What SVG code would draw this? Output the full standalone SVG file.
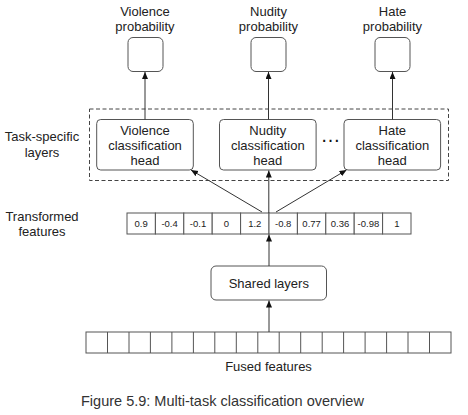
<svg xmlns="http://www.w3.org/2000/svg" width="468" height="415" viewBox="0 0 468 415">
<style>
text{font-family:"Liberation Sans",Arial,sans-serif;fill:#222;text-anchor:middle}
.lbl{font-size:13px}
.num{font-size:9.5px}
.cap{font-size:14.5px;text-anchor:start;fill:#333}
.box{fill:#fff;stroke:#555;stroke-width:1}
.cell{fill:#fff;stroke:#555;stroke-width:1}
.con{stroke:#333;stroke-width:1;fill:none}
</style>
<defs>
<marker id="ah" markerUnits="userSpaceOnUse" markerWidth="8" markerHeight="8" refX="7" refY="3" orient="auto">
<path d="M0,0 L7,3 L0,6 z" fill="#111"/>
</marker>
</defs>
<rect width="468" height="415" fill="#fff"/>

<g id="out-violence">
<text class="lbl" x="145" y="15.5">Violence</text>
<text class="lbl" x="145" y="30.5">probability</text>
<rect class="box" x="128" y="37.5" width="35" height="34" rx="5"/>
</g>
<g id="out-nudity">
<text class="lbl" x="268.5" y="15.5">Nudity</text>
<text class="lbl" x="268.5" y="30.5">probability</text>
<rect class="box" x="251" y="37.5" width="35" height="34" rx="5"/>
</g>
<g id="out-hate">
<text class="lbl" x="392.5" y="15.5">Hate</text>
<text class="lbl" x="392.5" y="30.5">probability</text>
<rect class="box" x="375" y="37.5" width="35" height="34" rx="5"/>
</g>

<g id="task-specific">
<rect x="89.5" y="109" width="359" height="71.5" fill="none" stroke="#444" stroke-width="1" stroke-dasharray="4,2.5"/>
<text class="lbl" x="42" y="141">Task-specific</text>
<text class="lbl" x="42" y="157">layers</text>
<text x="330.5" y="142" style="font-size:20px;fill:#111">…</text>
</g>

<g id="head-violence">
<rect class="box" x="96.7" y="119.5" width="96.6" height="50.5" rx="4"/>
<text class="lbl" x="145" y="134.5">Violence</text>
<text class="lbl" x="145" y="149.5">classification</text>
<text class="lbl" x="145" y="164.5">head</text>
</g>
<g id="head-nudity">
<rect class="box" x="219.5" y="119.5" width="96.6" height="50.5" rx="4"/>
<text class="lbl" x="267.8" y="134.5">Nudity</text>
<text class="lbl" x="267.8" y="149.5">classification</text>
<text class="lbl" x="267.8" y="164.5">head</text>
</g>
<g id="head-hate">
<rect class="box" x="344" y="119.5" width="96.6" height="50.5" rx="4"/>
<text class="lbl" x="392.3" y="134.5">Hate</text>
<text class="lbl" x="392.3" y="149.5">classification</text>
<text class="lbl" x="392.3" y="164.5">head</text>
</g>

<g id="transformed">
<text class="lbl" x="42" y="221">Transformed</text>
<text class="lbl" x="42" y="236">features</text>
<rect class="cell" x="127" y="213" width="28.4" height="21"/>
<rect class="cell" x="155.4" y="213" width="28.4" height="21"/>
<rect class="cell" x="183.8" y="213" width="28.4" height="21"/>
<rect class="cell" x="212.2" y="213" width="28.4" height="21"/>
<rect class="cell" x="240.6" y="213" width="28.4" height="21"/>
<rect class="cell" x="269" y="213" width="28.4" height="21"/>
<rect class="cell" x="297.4" y="213" width="28.4" height="21"/>
<rect class="cell" x="325.8" y="213" width="28.4" height="21"/>
<rect class="cell" x="354.2" y="213" width="28.4" height="21"/>
<rect class="cell" x="382.6" y="213" width="28.4" height="21"/>
<text class="num" x="141.2" y="227">0.9</text>
<text class="num" x="169.6" y="227">-0.4</text>
<text class="num" x="198" y="227">-0.1</text>
<text class="num" x="226.4" y="227">0</text>
<text class="num" x="254.8" y="227">1.2</text>
<text class="num" x="283.2" y="227">-0.8</text>
<text class="num" x="311.6" y="227">0.77</text>
<text class="num" x="340" y="227">0.36</text>
<text class="num" x="368.4" y="227">-0.98</text>
<text class="num" x="396.8" y="227">1</text>
</g>

<g id="shared">
<rect class="box" x="211" y="266" width="115.5" height="34" rx="5"/>
<text class="lbl" x="268.8" y="288">Shared layers</text>
</g>

<g id="fused">
<rect class="cell" x="86" y="332" width="365" height="21"/>
<path d="M107.5,332v21M129,332v21M150.4,332v21M171.9,332v21M193.4,332v21M214.8,332v21M236.3,332v21M257.8,332v21M279.2,332v21M300.7,332v21M322.2,332v21M343.6,332v21M365.1,332v21M386.6,332v21M408,332v21M429.5,332v21" fill="none" stroke="#555" stroke-width="1"/>
<text class="lbl" x="268.5" y="370.5">Fused features</text>
</g>

<g id="connectors">
<line class="con" x1="145" y1="119.5" x2="145" y2="72" marker-end="url(#ah)"/>
<line class="con" x1="268.5" y1="119.5" x2="268.5" y2="72" marker-end="url(#ah)"/>
<line class="con" x1="392.5" y1="119.5" x2="392.5" y2="72" marker-end="url(#ah)"/>
<line class="con" x1="262" y1="212" x2="191" y2="170" marker-end="url(#ah)"/>
<line class="con" x1="268.8" y1="213" x2="268.8" y2="170.5" marker-end="url(#ah)"/>
<line class="con" x1="276" y1="212" x2="346.5" y2="170" marker-end="url(#ah)"/>
<line class="con" x1="269" y1="266" x2="269" y2="234.5" marker-end="url(#ah)"/>
<line class="con" x1="269" y1="332" x2="269" y2="300.5" marker-end="url(#ah)"/>
</g>

<text class="cap" x="81" y="406">Figure 5.9: Multi-task classification overview</text>
</svg>
